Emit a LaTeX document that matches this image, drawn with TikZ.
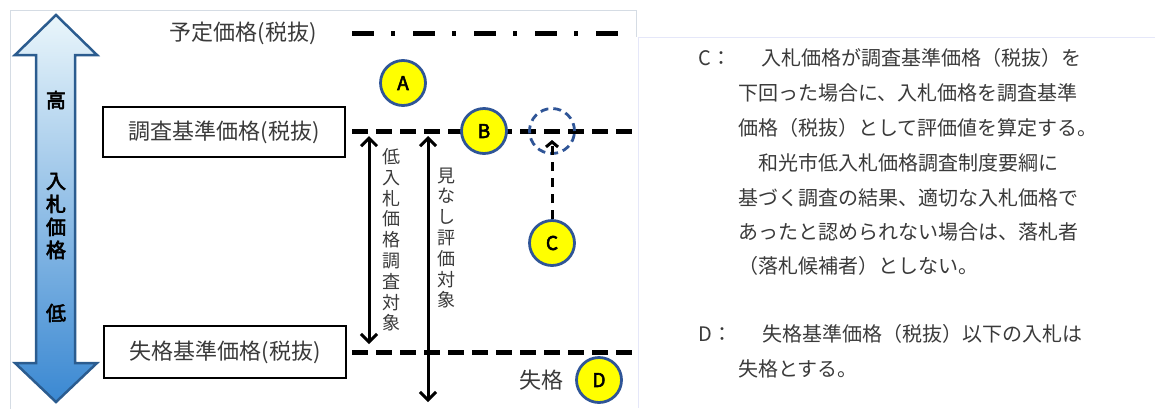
\documentclass[tikz,border=0pt]{standalone}
\usepackage{fontspec}
\newfontfamily\jp[AutoFakeBold=3]{Noto Sans CJK JP}
\usetikzlibrary{arrows.meta}

\definecolor{txtgray}{HTML}{3A3A3A}
\definecolor{rimblue}{HTML}{2F5597}
\definecolor{dotyellow}{HTML}{FFFF00}
\definecolor{panelgray}{HTML}{D5DCE4}
\definecolor{arrowtop}{HTML}{EAF6FB}
\definecolor{arrowbot}{HTML}{3A88D2}
\definecolor{arrowrim}{HTML}{2B5C8F}

\tikzset{
  pricebox/.style={draw,line width=2.5pt,minimum width=242pt,minimum height=50pt,
    font=\jp\fontsize{22}{24}\selectfont,text=txtgray},
  letterdot/.style={circle,draw=rimblue,line width=2.8pt,fill=dotyellow,
    minimum size=45pt,inner sep=0pt,font=\jp\bfseries\fontsize{19}{19}\selectfont},
  ghostdot/.style={circle,draw=rimblue,line width=2.8pt,dash pattern=on 8pt off 5pt,
    minimum size=45pt,inner sep=0pt},
  levelline/.style={line width=5pt,dash pattern=on 16pt off 8pt},
  planline/.style={line width=5pt,dash pattern=on 22pt off 17pt on 4pt off 18pt},
  rangearrow/.style={line width=3pt,{Straight Barb[length=8pt,width=16pt]}-{Straight Barb[length=8pt,width=16pt]}},
  vlabel/.style={align=center,font=\jp\fontsize{18}{20.8}\selectfont,text=txtgray},
  note/.style={anchor=base west,font=\jp\fontsize{20}{24}\selectfont,text=txtgray}
}

\begin{document}
\begin{tikzpicture}[x=1pt,y=-1pt]
  \useasboundingbox (0,0) rectangle (1155,408);
  % panels
  \draw[panelgray,line width=1pt] (10,430) -- (10,10) -- (636,10) -- (636,37);
  \draw[panelgray!80!blue!30,line width=1pt] (1155,37) -- (638,37) -- (638,408);

  % big arrow on the left
  \shade[top color=arrowtop,bottom color=arrowbot,draw=arrowrim,line width=2.5pt,line join=miter]
    (56,15) -- (97,55) -- (75,55) -- (75,363) -- (97,363) -- (56,402)
    -- (15,363) -- (36,363) -- (36,55) -- (15,55) -- cycle;
  \node[font=\jp\bfseries\fontsize{20}{20}\selectfont] (high) at (56,100) {高};
  \node[align=center,font=\jp\bfseries\fontsize{20}{23}\selectfont] (bidprice) at (56,216) {入\\札\\価\\格};
  \node[font=\jp\bfseries\fontsize{20}{20}\selectfont] (low) at (56,313) {低};

  % price levels
  \node[font=\jp\fontsize{22}{24}\selectfont,text=txtgray] (plan) at (243,33) {予定価格(税抜)};
  \node[pricebox] (survey) at (224,132) {調査基準価格(税抜)};
  \node[pricebox,minimum height=52pt] (fail) at (225,352) {失格基準価格(税抜)};

  \coordinate (planL) at (352,33);
  \coordinate (planR) at (626,33);
  \coordinate (surveyL) at (352,131);
  \coordinate (surveyR) at (634,131);
  \coordinate (failL) at (352,352);
  \coordinate (failR) at (634,352);
  \draw[planline] (planL) -- (planR);
  \draw[levelline] (surveyL) -- (surveyR);
  \draw[levelline] (failL) -- (failR);

  % ranges
  \coordinate (lowtop) at (369,131);
  \coordinate (lowbot) at (369,352);
  \coordinate (seetop) at (428,131);
  \coordinate (seebot) at (428,402);
  \draw[rangearrow,shorten <=5pt,shorten >=8pt] (lowtop) -- (lowbot);
  \draw[rangearrow,shorten <=5pt] (seetop) -- (seebot);
  \node[vlabel] (lowlabel) at (391,240) {低\\入\\札\\価\\格\\調\\査\\対\\象};
  \node[vlabel] (seelabel) at (446,238) {見\\な\\し\\評\\価\\対\\象};

  % marks
  \node[letterdot] (A) at (403,83) {A};
  \node[letterdot] (B) at (484,131) {B};
  \node[ghostdot] (ghost) at (552,131) {};
  \node[letterdot] (C) at (552,243) {C};
  \node[letterdot] (D) at (599,380) {D};
  \node[font=\jp\fontsize{22}{24}\selectfont,text=txtgray] (out) at (541,380) {失格};
  \draw[line width=3pt,dash pattern=on 9pt off 7pt,
    -{Straight Barb[length=5pt,width=12pt]},shorten >=9pt] (C) -- (ghost.center);

  % notes
  \node[note] (c1) at (695,65) {C：\hspace{1.5em}入札価格が調査基準価格（税抜）を};
  \node[note] (c2) at (735,100) {下回った場合に、入札価格を調査基準};
  \node[note] (c3) at (735,135) {価格（税抜）として評価値を算定する。};
  \node[note] (c4) at (755,170) {和光市低入札価格調査制度要綱に};
  \node[note] (c5) at (735,205) {基づく調査の結果、適切な入札価格で};
  \node[note] (c6) at (735,239) {あったと認められない場合は、落札者};
  \node[note] (c7) at (735,273) {（落札候補者）としない。};
  \node[note] (d1) at (695,341) {D：\hspace{1.5em}失格基準価格（税抜）以下の入札は};
  \node[note] (d2) at (735,376) {失格とする。};
\end{tikzpicture}
\end{document}
